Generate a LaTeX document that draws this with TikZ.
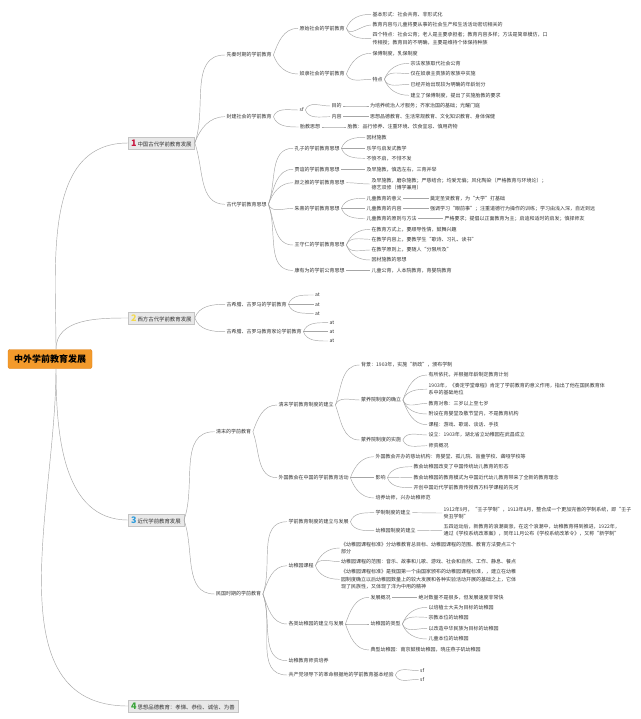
\documentclass[tikz,border=0pt]{standalone}
\usepackage{fontspec}
\setmainfont{Noto Sans CJK SC}
\usepackage{tikz}
\definecolor{ink}{HTML}{333333}
\definecolor{wire}{HTML}{A6A6A6}
\definecolor{rootfill}{HTML}{F39A2B}
\definecolor{rootedge}{HTML}{DD7E16}
\definecolor{boxfill}{HTML}{E8E8E8}
\definecolor{boxedge}{HTML}{C4C4C4}
\definecolor{numred}{HTML}{C8173F}
\definecolor{numyellow}{HTML}{F3D94E}
\definecolor{numblue}{HTML}{2E9BDB}
\definecolor{numgreen}{HTML}{3AA43A}
\newcommand\topicnum[2]{{\fontsize{9}{9}\selectfont\bfseries\color{#1}#2}\,}

\begin{document}
\begin{tikzpicture}[
  x=1pt,
  y=-1pt,
  rootbox/.style={
    rounded corners=2pt,fill=rootfill,draw=rootedge,text=black,
    font=\fontsize{9}{10}\selectfont\bfseries,
    minimum width=84,minimum height=19,inner sep=0pt
  },
  topic/.style={
    anchor=west,fill=boxfill,draw=boxedge,text=ink,
    font=\fontsize{5.4}{6}\selectfont,
    minimum height=12,inner xsep=3pt,inner ysep=0pt
  },
  sub/.style={
    anchor=west,text=ink,font=\fontsize{5}{7.2}\selectfont,
    inner xsep=1.5pt,inner ysep=1pt,align=left
  },
  link/.style={draw=wire,line width=0.45pt},
  riseto/.style={out=70,in=180},
  fallto/.style={out=-70,in=180},
  flatto/.style={out=0,in=180}
]
  \useasboundingbox[fill=white] (0,0) rectangle (640,719);

  % Root and main topics
  \node[rootbox] (root) at (50,359) {中外学前教育发展};
  \node[topic] (china) at (128,143) {\topicnum{numred}{1}中国古代学前教育发展};
  \node[topic] (western) at (128,318) {\topicnum{numyellow}{2}西方古代学前教育发展};
  \node[topic] (modern) at (128,520) {\topicnum{numblue}{3}近代学前教育发展};
  \node[topic] (moral) at (128,706) {\topicnum{numgreen}{4}思想品德教育：孝悌、恭俭、诚信、为善};
  \draw[link] ([xshift=6pt]root.north) to[out=90,in=180] (china.west);
  \draw[link] ([xshift=6pt]root.north) to[out=90,in=180] (western.west);
  \draw[link] ([xshift=6pt]root.south) to[out=-90,in=180] (modern.west);
  \draw[link] ([xshift=6pt]root.south) to[out=-90,in=180] (moral.west);

  % 1 Pre-Qin
  \node[sub] (xianqin) at (225,55) {先秦时期的学前教育};
  \node[sub] (yuanshi) at (298,28.3) {原始社会的学前教育};
  \node[sub] (nuli) at (298,74) {奴隶社会的学前教育};
  \node[sub] (ys1) at (371,14.3) {基本形式：社会共育、非形式化};
  \node[sub] (ys2) at (371,25) {教育内容与儿童将要从事的社会生产和生活活动密切相关的};
  \node[sub] (ys3) at (371,38.7) {四个特点：社会公育；老人是主要承担者；教育内容多样；方法是简单模仿，口\\传相授；教育目的不明确，主要是维持个体保持种族};
  \node[sub] (nl1) at (371,53.3) {保傅制度，乳保制度};
  \node[sub] (nltd) at (371,79.3) {特点};
  \node[sub] (td1) at (409,63.3) {宗法家族取代社会公育};
  \node[sub] (td2) at (409,73.7) {仅在奴隶主贵族的家族中实施};
  \node[sub] (td3) at (409,84.3) {已经开始出现较为明确的年龄划分};
  \node[sub] (td4) at (409,95.3) {建立了保傅制度，提出了实施胎教的要求};
  \draw[link] (china.east) to[riseto] (xianqin.west);
  \draw[link] (xianqin.east) to[riseto] (yuanshi.west);
  \draw[link] (xianqin.east) to[fallto] (nuli.west);
  \draw[link] (yuanshi.east) to[riseto] (ys1.west);
  \draw[link] (yuanshi.east) to[fallto] (ys2.west);
  \draw[link] (yuanshi.east) to[fallto] (ys3.west);
  \draw[link] (nuli.east) to[riseto] (nl1.west);
  \draw[link] (nuli.east) to[fallto] (nltd.west);
  \draw[link] (nltd.east) to[riseto] (td1.west);
  \draw[link] (nltd.east) to[riseto] (td2.west);
  \draw[link] (nltd.east) to[fallto] (td3.west);
  \draw[link] (nltd.east) to[fallto] (td4.west);

  % 1 Feudal
  \node[sub] (fengjian) at (225,116.7) {封建社会的学前教育};
  \node[sub] (fjsf) at (298,110) {sf};
  \node[sub] (mudi) at (330,106) {目的};
  \node[sub] (md1) at (368.5,106) {为培养统治人才服务；齐家治国的基础；光耀门庭};
  \node[sub] (neirong) at (330,116.7) {内容};
  \node[sub] (nr1) at (368.5,116.7) {思想品德教育、生活常规教育、文化知识教育、身体保健};
  \node[sub] (taijiao) at (298.5,127) {胎教思想};
  \node[sub] (tj1) at (346,127) {胎教：品行修养、注重环境、饮食宜忌、慎用药物};
  \draw[link] (china.east) to[riseto] (fengjian.west);
  \draw[link] (fengjian.east) to[riseto] (fjsf.west);
  \draw[link] (fengjian.east) to[fallto] (taijiao.west);
  \draw[link] (fjsf.east) to[riseto] (mudi.west);
  \draw[link] (fjsf.east) to[fallto] (neirong.west);
  \draw[link] (mudi.east) to[flatto] (md1.west);
  \draw[link] (neirong.east) to[flatto] (nr1.west);
  \draw[link] (taijiao.east) to[flatto] (tj1.west);

  % 1 Ancient thinkers
  \node[sub] (gudai) at (225,204.3) {古代学前教育思想};
  \node[sub] (kongzi) at (293,148.3) {孔子的学前教育思想};
  \node[sub] (kz1) at (365,137.3) {因材施教};
  \node[sub] (kz2) at (365,148.3) {乐学与启发式教学};
  \node[sub] (kz3) at (365,158.3) {不愤不启，不悱不发};
  \node[sub] (jiayi) at (293,169.3) {贾谊的学前教育思想};
  \node[sub] (jy1) at (365,169.3) {及早施教，慎选左右，三育并举};
  \node[sub] (yanzt) at (293,182.7) {颜之推的学前教育思想};
  \node[sub] (yz1) at (370,184) {及早施教，磨杂施教；严慈结合；均爱无偏；风化陶染（严格教育与环境论）；\\德艺双修（博学兼用）};
  \node[sub] (zhuxi) at (293,208.3) {朱熹的学前教育思想};
  \node[sub] (zx1) at (365,198.3) {儿童教育的意义};
  \node[sub] (zx1a) at (428.5,198.3) {奠定圣贤教育，为“大学”打基础};
  \node[sub] (zx2) at (365,208.3) {儿童教育的内容};
  \node[sub] (zx2a) at (428.5,208.3) {强调学习“眼前事”；注重道德行为操作的训练；学习由浅入深，自近到远};
  \node[sub] (zx3) at (365,218.5) {儿童教育的原则与方法};
  \node[sub] (zx3a) at (443,218.5) {严格要求；提倡以正面教育为主；启迪和适时的启发；慎择师友};
  \node[sub] (wang) at (293,245) {王守仁的学前教育思想};
  \node[sub] (ws1) at (370,229.3) {在教育方式上，要顺导性情，鼓舞兴趣};
  \node[sub] (ws2) at (370,239.3) {在教学内容上，要教学生“歌诗、习礼、读书”};
  \node[sub] (ws3) at (370,250) {在教学原则上，要随人“分限所及”};
  \node[sub] (ws4) at (370,260) {因材施教的思想};
  \node[sub] (kang) at (293,270.5) {康有为的学前公育思想};
  \node[sub] (ky1) at (370,270.5) {儿童公育，人本院教育，育婴院教育};
  \draw[link] (china.east) to[fallto] (gudai.west);
  \draw[link] (gudai.east) to[riseto] (kongzi.west);
  \draw[link] (gudai.east) to[riseto] (jiayi.west);
  \draw[link] (gudai.east) to[riseto] (yanzt.west);
  \draw[link] (gudai.east) to[fallto] (zhuxi.west);
  \draw[link] (gudai.east) to[fallto] (wang.west);
  \draw[link] (gudai.east) to[fallto] (kang.west);
  \draw[link] (kongzi.east) to[riseto] (kz1.west);
  \draw[link] (kongzi.east) to[flatto] (kz2.west);
  \draw[link] (kongzi.east) to[fallto] (kz3.west);
  \draw[link] (jiayi.east) to[flatto] (jy1.west);
  \draw[link] (yanzt.east) to[flatto] (yz1.west);
  \draw[link] (zhuxi.east) to[riseto] (zx1.west);
  \draw[link] (zhuxi.east) to[flatto] (zx2.west);
  \draw[link] (zhuxi.east) to[fallto] (zx3.west);
  \draw[link] (zx1.east) to[flatto] (zx1a.west);
  \draw[link] (zx2.east) to[flatto] (zx2a.west);
  \draw[link] (zx3.east) to[flatto] (zx3a.west);
  \draw[link] (wang.east) to[riseto] (ws1.west);
  \draw[link] (wang.east) to[riseto] (ws2.west);
  \draw[link] (wang.east) to[fallto] (ws3.west);
  \draw[link] (wang.east) to[fallto] (ws4.west);
  \draw[link] (kang.east) to[flatto] (ky1.west);

  % 2 Western antiquity
  \node[sub] (greeka) at (225,304.3) {古希腊、古罗马的学前教育};
  \node[sub] (ga1) at (313.5,295) {at};
  \node[sub] (ga2) at (313.5,304.3) {at};
  \node[sub] (ga3) at (313.5,313.3) {at};
  \node[sub] (greekb) at (225,331.7) {古希腊、古罗马教育家论学前教育};
  \node[sub] (gb1) at (328,322.7) {at};
  \node[sub] (gb2) at (328,331.7) {at};
  \node[sub] (gb3) at (328,341) {at};
  \draw[link] (western.east) to[riseto] (greeka.west);
  \draw[link] (western.east) to[fallto] (greekb.west);
  \draw[link] (greeka.east) to[riseto] (ga1.west);
  \draw[link] (greeka.east) to[flatto] (ga2.west);
  \draw[link] (greeka.east) to[fallto] (ga3.west);
  \draw[link] (greekb.east) to[riseto] (gb1.west);
  \draw[link] (greekb.east) to[flatto] (gb2.west);
  \draw[link] (greekb.east) to[fallto] (gb3.west);

  % 3 Late Qing
  \node[sub] (qingmo) at (214.5,431.7) {清末的学前教育};
  \node[sub] (qmzd) at (277,405) {清末学前教育制度的建立};
  \node[sub] (beijing) at (359.5,365) {背景：1903年，实施“新政”，颁布学制};
  \node[sub] (myq) at (359.5,400) {蒙养院制度的确立};
  \node[sub] (my1) at (427,375) {有所依托，并根据年龄制定教育计划};
  \node[sub] (my2) at (427,389.2) {1903年，《奏定学堂章程》肯定了学前教育的意义作用，指出了他在国民教育体\\系中的基础地位};
  \node[sub] (my3) at (427,403.3) {教育对象：三岁以上至七岁};
  \node[sub] (my4) at (427,414) {附设在育婴堂及敬节堂内，不是教育机构};
  \node[sub] (my5) at (427,424.7) {课程：游戏、歌谣、谈话、手技};
  \node[sub] (mys) at (359.5,440) {蒙养院制度的实施};
  \node[sub] (ms1) at (427,435) {设立：1903年，湖北省立幼稚园在武昌成立};
  \node[sub] (ms2) at (427,445.7) {师资概况};
  \node[sub] (jiaohui) at (277,477.7) {外国教会在中国的学前教育活动};
  \node[sub] (jh1) at (374,456.7) {外国教会开办的慈幼机构：育婴堂、孤儿院、盲童学校、聋哑学校等};
  \node[sub] (yingx) at (374,477.7) {影响};
  \node[sub] (yx1) at (412,466.7) {教会幼稚园改变了中国传统幼儿教育的形态};
  \node[sub] (yx2) at (412,477.3) {教会幼稚园的教育模式为中国近代幼儿教育带来了全新的教育理念};
  \node[sub] (yx3) at (412,487.7) {开创中国近代学前教育传授西方科学课程的先河};
  \node[sub] (jh3) at (374,498) {培养幼师，兴办幼稚师范};
  \draw[link] (modern.east) to[riseto] (qingmo.west);
  \draw[link] (qingmo.east) to[riseto] (qmzd.west);
  \draw[link] (qingmo.east) to[fallto] (jiaohui.west);
  \draw[link] (qmzd.east) to[riseto] (beijing.west);
  \draw[link] (qmzd.east) to[riseto] (myq.west);
  \draw[link] (qmzd.east) to[fallto] (mys.west);
  \draw[link] (myq.east) to[riseto] (my1.west);
  \draw[link] (myq.east) to[riseto] (my2.west);
  \draw[link] (myq.east) to[fallto] (my3.west);
  \draw[link] (myq.east) to[fallto] (my4.west);
  \draw[link] (myq.east) to[fallto] (my5.west);
  \draw[link] (mys.east) to[riseto] (ms1.west);
  \draw[link] (mys.east) to[fallto] (ms2.west);
  \draw[link] (jiaohui.east) to[riseto] (jh1.west);
  \draw[link] (jiaohui.east) to[flatto] (yingx.west);
  \draw[link] (jiaohui.east) to[fallto] (jh3.west);
  \draw[link] (yingx.east) to[riseto] (yx1.west);
  \draw[link] (yingx.east) to[flatto] (yx2.west);
  \draw[link] (yingx.east) to[fallto] (yx3.west);

  % 3 Republic
  \node[sub] (minguo) at (214.5,594) {民国时期的学前教育};
  \node[sub] (mgzd) at (287,521.7) {学前教育制度的建立与发展};
  \node[sub] (xuezhi) at (374,512.7) {学制制度的建立};
  \node[sub] (xz1) at (442,513) {1912年9月，“壬子学制”，1913年8月，整合成一个更加完善的学制系统，即“壬子\\癸丑学制”};
  \node[sub] (yzy) at (374,530.7) {幼稚园制度的建立};
  \node[sub] (yzy1) at (442,530.3) {五四运动后，新教育的浪潮高涨，在这个浪潮中，幼稚教育得到推进，1922年，\\通过《学校系统改革案》，同年11月公布《学校系统改革令》，又称“新学制”};
  \node[sub] (kecheng) at (287,565.7) {幼稚园课程};
  \node[sub] (kc1) at (339.5,548) {《幼稚园课程标准》分幼稚教育总目标、幼稚园课程的范围、教育方法要点三个\\部分};
  \node[sub] (kc2) at (339.5,561.7) {幼稚园课程的范围：音乐、故事和儿歌、游戏、社会和自然、工作、静息、餐点};
  \node[sub] (kc3) at (339.5,579.3) {《幼稚园课程标准》是我国第一个由国家颁布的幼稚园课程标准，，建立在幼稚\\园制度确立以后幼稚园数量上的较大发展和各种实验活动开展的基础之上，它体\\现了民族性，又体现了洋为中用的精神};
  \node[sub] (gelei) at (287,624) {各类幼稚园的建立与发展};
  \node[sub] (fazhan) at (369,597.3) {发展概况};
  \node[sub] (fz1) at (417,597.3) {绝对数量不是很多，但发展速度非常快};
  \node[sub] (leixing) at (369,624) {幼稚园的类型};
  \node[sub] (lx1) at (427,607.3) {以培植士大夫为目标的幼稚园};
  \node[sub] (lx2) at (427,617.3) {宗教本位的幼稚园};
  \node[sub] (lx3) at (427,628.3) {以改造中华民族为目标的幼稚园};
  \node[sub] (lx4) at (427,639) {儿童本位的幼稚园};
  \node[sub] (dianxing) at (369,650) {典型幼稚园：南京鼓楼幼稚园，晓庄燕子矶幼稚园};
  \node[sub] (shizi) at (287,660.7) {幼稚教育师资培养};
  \node[sub] (gcd) at (287,675) {共产党领导下的革命根据地的学前教育基本经验};
  \node[sub] (gc1) at (418.5,670.7) {sf};
  \node[sub] (gc2) at (418.5,679.3) {sf};
  \draw[link] (modern.east) to[fallto] (minguo.west);
  \draw[link] (minguo.east) to[riseto] (mgzd.west);
  \draw[link] (minguo.east) to[riseto] (kecheng.west);
  \draw[link] (minguo.east) to[fallto] (gelei.west);
  \draw[link] (minguo.east) to[fallto] (shizi.west);
  \draw[link] (minguo.east) to[fallto] (gcd.west);
  \draw[link] (mgzd.east) to[riseto] (xuezhi.west);
  \draw[link] (mgzd.east) to[fallto] (yzy.west);
  \draw[link] (xuezhi.east) to[flatto] (xz1.west);
  \draw[link] (yzy.east) to[flatto] (yzy1.west);
  \draw[link] (kecheng.east) to[riseto] (kc1.west);
  \draw[link] (kecheng.east) to[riseto] (kc2.west);
  \draw[link] (kecheng.east) to[fallto] (kc3.west);
  \draw[link] (gelei.east) to[riseto] (fazhan.west);
  \draw[link] (gelei.east) to[flatto] (leixing.west);
  \draw[link] (gelei.east) to[fallto] (dianxing.west);
  \draw[link] (fazhan.east) to[flatto] (fz1.west);
  \draw[link] (leixing.east) to[riseto] (lx1.west);
  \draw[link] (leixing.east) to[riseto] (lx2.west);
  \draw[link] (leixing.east) to[fallto] (lx3.west);
  \draw[link] (leixing.east) to[fallto] (lx4.west);
  \draw[link] (gcd.east) to[riseto] (gc1.west);
  \draw[link] (gcd.east) to[fallto] (gc2.west);
\end{tikzpicture}
\end{document}
